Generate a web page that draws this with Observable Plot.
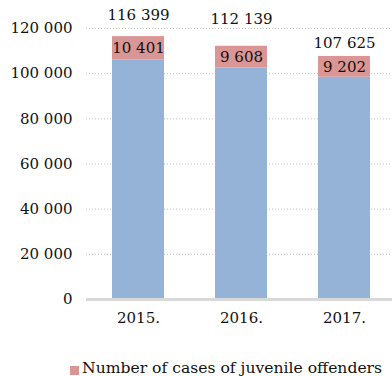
<!DOCTYPE html>
<html>
<head>
<meta charset="utf-8">
<script src="https://cdn.jsdelivr.net/npm/d3@7"></script>
<script src="https://cdn.jsdelivr.net/npm/@observablehq/plot@0.6"></script>
<style>
  html, body { margin: 0; padding: 0; background: #fff; }
  #wrap { position: relative; width: 392px; height: 376px; overflow: hidden; font-family: "DejaVu Serif", serif; }
  #legend { position: absolute; left: 70px; top: 361px; display: flex; align-items: flex-end; font-size: 15.6px; line-height: 15px; color: #111; white-space: nowrap; }
  #legend .sw { width: 9px; height: 9px; background: #D99694; margin-right: 3px; margin-bottom: 1px; }
</style>
</head>
<body>
<div id="wrap"><div id="chart"></div><div id="legend"><div class="sw"></div><span>Number of cases of juvenile offenders</span></div></div>
<script>
const years = ["2015.", "2016.", "2017."];
const totals = [116399, 112139, 107625];
const juvenile = [10401, 9608, 9202];
const yTicks = [0, 20000, 40000, 60000, 80000, 100000, 120000];

const fmt = v => d3.format(",")(v).replace(/,/g, " ");

const rows = [];
years.forEach((y, i) => {
  rows.push({year: y, series: "other", value: totals[i] - juvenile[i]});
  rows.push({year: y, series: "juvenile", value: juvenile[i]});
});
const juvRows = years.map((y, i) => ({year: y, mid: totals[i] - juvenile[i] / 2, value: juvenile[i]}));
const totRows = years.map((y, i) => ({year: y, total: totals[i]}));
const totalDy = {"2015.": -21, "2016.": -27, "2017.": -13};

const chart = Plot.plot({
  width: 392,
  height: 340,
  marginLeft: 86,
  marginRight: 0,
  marginTop: 28,
  marginBottom: 41,
  style: {fontFamily: "DejaVu Serif, serif", fontSize: "15px", color: "#111", background: "transparent"},
  x: {domain: years, range: [86, 395], paddingInner: 0.5, paddingOuter: 0.25, label: null},
  y: {domain: [0, 120000], label: null},
  color: {domain: ["other", "juvenile"], range: ["#95B3D7", "#D99694"]},
  marks: [
    Plot.ruleY(yTicks.filter(d => d > 0), {stroke: "#BFBFBF", strokeDasharray: "1,2", strokeWidth: 1}),
    Plot.barY(rows, {x: "year", y: "value", fill: "series"}),
    Plot.ruleY([0], {stroke: "#D9D9D9", strokeWidth: 3}),
    Plot.axisY({ticks: yTicks, tickFormat: fmt, tickSize: 0, tickPadding: 14, fontSize: 15, fill: "#111"}),
    Plot.axisX({tickSize: 0, tickPadding: 13, fontSize: 15, fill: "#111"}),
    Plot.text(juvRows, {x: "year", y: "mid", text: d => fmt(d.value), fontSize: 15, fill: "#111"}),
    ...years.map(yr => Plot.text(totRows.filter(d => d.year === yr), {x: "year", y: "total", text: d => fmt(d.total), dy: totalDy[yr], fontSize: 15, fill: "#111"}))
  ]
});
document.getElementById("chart").appendChild(chart);
</script>
</body>
</html>
